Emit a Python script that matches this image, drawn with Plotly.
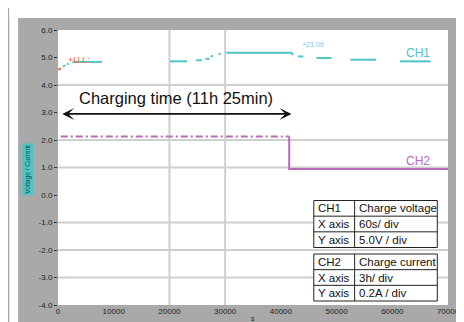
import plotly.graph_objects as go

# ---------------- data ----------------
ch1_time = [900, 1300, None, 1600, 1900, None, 2600, 7900, None, 20100, 23200, None,
            24800, 25800, None, 26500, 27200, None, 27400, 27800, None, 28800, 29200, None,
            30200, 41900, 42200, None, 43100, 44000, None, 46400, 49100, None,
            52500, 57100, None, 61400, 66900]
ch1_volt = [4.67, 4.71, None, 4.75, 4.78, None, 4.84, 4.84, None, 4.86, 4.86, None,
            4.90, 4.90, None, 4.95, 4.95, None, 5.05, 5.05, None, 5.13, 5.13, None,
            5.17, 5.17, 5.10, None, 5.04, 5.04, None, 4.98, 4.98, None,
            4.92, 4.92, None, 4.86, 4.86]
ref_time = [0, 500]
ref_volt = [4.56, 4.60]

ch2_time = [500, 41500, 41500, 70000]
ch2_curr = [2.13, 2.13, 0.95, 0.95]

charge_start = 500
charge_end = 41900
charge_label = "Charging time (11h 25min)"

x_ticks = [0, 10000, 20000, 30000, 40000, 50000, 60000, 70000]
x_tick_text = ["0", "10000", "20000", "30000", "40000", "50000", "60000", "70000"]
y_ticks = [6, 5, 4, 3, 2, 1, 0, -1, -2, -3, -4]
y_tick_text = ["6.0", "5.0", "4.0", "3.0", "2.0", "1.0", "0.0", "-1.0", "-2.0", "-3.0", "-4.0"]
grid_x = [20000, 30000]
grid_y = [4, 2, 1, -1, -2, -3]

table1 = [["CH1", "Charge voltage"], ["X axis", "60s/ div"], ["Y axis", "5.0V / div"]]
table2 = [["CH2", "Charge current"], ["X axis", "3h/ div"], ["Y axis", "0.2A / div"]]

# ---------------- layout helpers ----------------
WIDTH, HEIGHT = 464, 322
L, T, R, B = 50, 22, 13, 25
W = WIDTH - L - R
H = HEIGHT - T - B


def fx(px):
    return (px - L) / W


def fy(py):
    return (T + H - py) / H


TEAL = "#4fc4c4"
PURPLE = "#bb6bbb"
GRAY = "#a9a9a9"
GRID = "#cfcfcf"
FONT = "Liberation Sans, Arial, sans-serif"

fig = go.Figure()

fig.add_trace(go.Scatter(x=ch1_time, y=ch1_volt, mode="lines", connectgaps=False,
                         line=dict(color=TEAL, width=2), showlegend=False))
fig.add_trace(go.Scatter(x=ref_time, y=ref_volt, mode="lines",
                         line=dict(color="#f06a3c", width=2), showlegend=False))
fig.add_trace(go.Scatter(x=ch2_time[:2], y=ch2_curr[:2], mode="lines",
                         line=dict(color=PURPLE, width=2, dash="7px,3px,2px,3px"),
                         showlegend=False))
fig.add_trace(go.Scatter(x=ch2_time[1:], y=ch2_curr[1:], mode="lines",
                         line=dict(color=PURPLE, width=2), showlegend=False))

shapes = []
for gx in grid_x:
    shapes.append(dict(type="line", xref="x", yref="paper", x0=gx, x1=gx, y0=0, y1=1,
                       line=dict(color=GRID, width=2), layer="below"))
for gy in grid_y:
    shapes.append(dict(type="line", xref="paper", yref="y", x0=0, x1=1, y0=gy, y1=gy,
                       line=dict(color=GRID, width=2), layer="below"))

# white margins outside the gray frame
shapes.append(dict(type="rect", xref="paper", yref="paper", x0=fx(0), x1=fx(WIDTH),
                   y0=fy(10), y1=fy(0), fillcolor="white", line=dict(width=0), layer="above"))
shapes.append(dict(type="rect", xref="paper", yref="paper", x0=fx(0), x1=fx(9),
                   y0=fy(HEIGHT), y1=fy(0), fillcolor="white", line=dict(width=0), layer="above"))

annotations = []


def label(px, py, text, size, color, **kw):
    d = dict(x=fx(px), y=fy(py), xref="paper", yref="paper", text=text, showarrow=False,
             xanchor="center", yanchor="middle",
             font=dict(size=size, color=color, family=FONT))
    d.update(kw)
    annotations.append(d)


# tables
tx0, tdiv, tx1 = 313, 355, 440
for rows, top, bottom in ((table1, 192.5, 239.5), (table2, 246, 293)):
    rh = (bottom - top) / len(rows)
    shapes.append(dict(type="rect", xref="paper", yref="paper", x0=fx(tx0), x1=fx(tx1),
                       y0=fy(bottom), y1=fy(top), fillcolor="white",
                       line=dict(color="#222", width=1), layer="above"))
    shapes.append(dict(type="line", xref="paper", yref="paper", x0=fx(tdiv), x1=fx(tdiv),
                       y0=fy(bottom), y1=fy(top), line=dict(color="#222", width=1), layer="above"))
    for i, (a, b) in enumerate(rows):
        if i > 0:
            yy = top + i * rh
            shapes.append(dict(type="line", xref="paper", yref="paper", x0=fx(tx0), x1=fx(tx1),
                               y0=fy(yy), y1=fy(yy), line=dict(color="#222", width=1),
                               layer="above"))
        yc = top + (i + 0.5) * rh
        label(tx0 + 2, yc, a, 11.5, "#111", xanchor="left")
        label(tdiv + 2, yc, b, 11.5, "#111", xanchor="left")

# charging-time arrow
annotations.append(dict(x=charge_end, y=2.95, ax=charge_start, ay=2.95, xref="x", yref="y",
                        axref="x", ayref="y", text="", showarrow=True, arrowside="end+start",
                        arrowhead=3, arrowsize=1.25, arrowwidth=1.6, arrowcolor="#111"))
label(171, 90, charge_label, 16.5, "#111")

# channel labels
label(420, 45, "CH1", 12, TEAL)
label(420, 153, "CH2", 12, PURPLE)
label(72, 52, "+U.L:", 9, "#f06a3c")
label(312, 36, "+21.09", 7, "#6ccbee")

# axis titles
label(19, 161, "Voltage / Current", 6.5, "#1f4a4a", textangle=-90, bgcolor=TEAL, borderpad=1)
label(250, 310, "s", 7, "#222", borderpad=0)

fig.update_layout(
    width=WIDTH, height=HEIGHT,
    margin=dict(l=L, r=R, t=T, b=B, pad=0),
    paper_bgcolor=GRAY, plot_bgcolor="white",
    font=dict(family=FONT),
    shapes=shapes, annotations=annotations,
    xaxis=dict(range=[0, 70000], tickvals=x_ticks, ticktext=x_tick_text, showgrid=False,
               zeroline=False, ticks="", tickfont=dict(size=8, color="#222"), fixedrange=True),
    yaxis=dict(range=[-4, 6], tickvals=y_ticks, ticktext=y_tick_text, showgrid=False,
               zeroline=False, ticks="outside", ticklen=3, tickcolor="#333",
               tickfont=dict(size=8, color="#222"), fixedrange=True),
)

fig.write_html("out.html")
